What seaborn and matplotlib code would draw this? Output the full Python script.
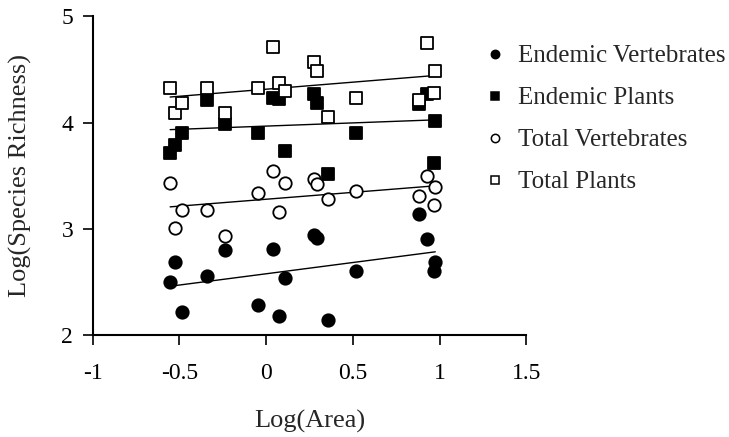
import numpy as np
import pandas as pd
import matplotlib
matplotlib.use("Agg")
import matplotlib.pyplot as plt
from matplotlib.lines import Line2D
import seaborn as sns

# log(area) of each island
log_area = [-0.553, -0.524, -0.482, -0.341, -0.236, -0.044, 0.037, 0.076, 0.110,
            0.277, 0.293, 0.356, 0.518, 0.879, 0.927, 0.966, 0.975]

endemic_vert = [2.50, 2.69, 2.22, 2.56, 2.80, 2.28, 2.81, 2.18, 2.54,
                2.94, 2.91, 2.14, 2.60, 3.14, 2.90, 2.60, 2.69]
endemic_plants = [3.71, 3.79, 3.90, 4.21, 3.99, 3.90, 4.23, 4.22, 3.73,
                  4.27, 4.18, 3.52, 3.90, 4.17, 4.27, 3.62, 4.01]
total_vert = [3.43, 3.01, 3.18, 3.18, 2.93, 3.34, 3.54, 3.16, 3.43,
              3.47, 3.42, 3.28, 3.36, 3.31, 3.50, 3.22, 3.39]
total_plants = [4.32, 4.09, 4.18, 4.32, 4.09, 4.32, 4.71, 4.37, 4.30,
                4.57, 4.48, 4.05, 4.23, 4.21, 4.75, 4.28, 4.48]

series = ["Endemic Vertebrates", "Endemic Plants", "Total Vertebrates", "Total Plants"]
values = [endemic_vert, endemic_plants, total_vert, total_plants]
markers = ["o", "s", "o", "s"]
faces = ["black", "black", "white", "white"]

sns.set_style("ticks")
plt.rcParams["font.family"] = ["Liberation Serif", "DejaVu Serif"]
plt.rcParams["axes.unicode_minus"] = False

fig = plt.figure(figsize=(7.29, 4.37), dpi=100)
ax = fig.add_axes([0.127, 0.233, 0.595, 0.73])

for name, vals, mk, fc in zip(series, values, markers, faces):
    df = pd.DataFrame({"x": log_area, "y": vals})
    sns.regplot(data=df, x="x", y="y", ax=ax, scatter=False, ci=None,
                line_kws={"color": "black", "lw": 1.0})
    sns.scatterplot(data=df, x="x", y="y", ax=ax, marker=mk, s=80 if mk == "o" else 72,
                    color=fc, edgecolor="black", linewidth=1.3, zorder=3)

ax.set_xlim(-1, 1.5)
ax.set_ylim(2, 5)
ax.set_xticks([-1, -0.5, 0, 0.5, 1, 1.5])
ax.set_xticklabels(["-1", "-0.5", "0", "0.5", "1", "1.5"])
ax.set_yticks([2, 3, 4, 5])
ax.tick_params(labelsize=17, length=7, width=1.2, color="black", labelcolor="black")
ax.tick_params(axis="x", pad=13)
ax.tick_params(axis="y", pad=7)
for s in ["left", "bottom"]:
    ax.spines[s].set_linewidth(1.5)
    ax.spines[s].set_color("black")
sns.despine(ax=ax)
ax.set_xlabel("Log(Area)", fontsize=19, labelpad=19)
ax.set_ylabel("Log(Species Richness)", fontsize=19, labelpad=21)

handles = [Line2D([], [], ls="", marker=mk, markersize=6, markerfacecolor=fc,
                  markeredgecolor="black", markeredgewidth=1.1)
           for mk, fc in zip(markers, faces)]
fig.legend(handles, series, loc="upper left", bbox_to_anchor=(0.652, 0.92),
           frameon=False, fontsize=18, handlelength=0.8, handletextpad=0.5,
           labelspacing=0.78, borderaxespad=0)

fig.savefig("out.png", dpi=100)
